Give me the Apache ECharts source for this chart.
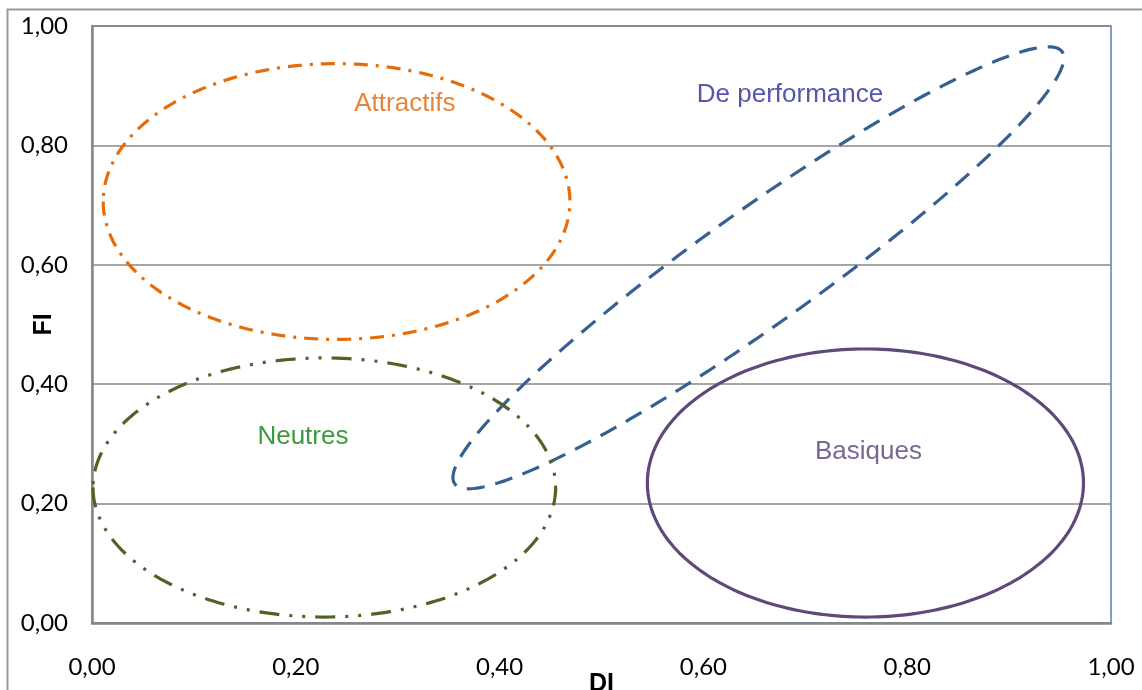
<!DOCTYPE html>
<html>
<head>
<meta charset="utf-8">
<style>html,body{margin:0;padding:0;background:#fff;}#c{width:1142px;height:690px;}</style>
<script src="https://cdn.jsdelivr.net/npm/echarts@6/dist/echarts.min.js"></script>
</head>
<body>
<div id="c"></div>
<script>
// Tick values
var xTicks = [0, 0.2, 0.4, 0.6, 0.8, 1.0];
var yTicks = [0, 0.2, 0.4, 0.6, 0.8, 1.0];
// Zone names
var zoneNames = ['Attractifs', 'De performance', 'Neutres', 'Basiques'];
// Ellipse centres (DI, FI)
var zoneCenters = [[0.240, 0.706], [0.654, 0.595], [0.228, 0.227], [0.759, 0.2345]];
// First semi-axis vectors (DI, FI)
var zoneAxisA = [[0.229, 0], [0.298, 0.362], [0.227, 0], [0.214, 0]];
// Second semi-axis vectors (DI, FI)
var zoneAxisB = [[0, 0.231], [0.0327, -0.0776], [0, 0.217], [0, 0.2245]];
// Label anchor points (DI, FI)
var labelPoints = [[0.307, 0.869], [0.685, 0.884], [0.207, 0.312], [0.762, 0.286]];

var colors = ['#E46C0A', '#366092', '#4F6228', '#5F497A'];
var textColors = ['#E0650A', '#2B2B98', '#0E800E', '#58407A'];
var dashes = [[14, 8, 3, 8], [18, 11], [20, 10, 3, 10, 3, 10], null];

function fmt(v) { return v.toFixed(2).replace('.', ','); }

var series = [];
zoneNames.forEach(function (name, i) {
  series.push({
    type: 'custom',
    name: name,
    silent: true,
    data: [[zoneCenters[i][0], zoneCenters[i][1], zoneAxisA[i][0], zoneAxisA[i][1], zoneAxisB[i][0], zoneAxisB[i][1]]],
    renderItem: function (params, api) {
      var cx = api.value(0), cy = api.value(1), ax = api.value(2), ay = api.value(3), bx = api.value(4), by = api.value(5);
      var pts = [];
      var n = 240;
      for (var k = 0; k <= n; k++) {
        var t = Math.PI + 2 * Math.PI * k / n;
        pts.push(api.coord([cx + ax * Math.cos(t) + bx * Math.sin(t), cy + ay * Math.cos(t) + by * Math.sin(t)]));
      }
      var style = { fill: null, stroke: colors[i], lineWidth: 3.2 };
      if (dashes[i]) style.lineDash = dashes[i];
      return { type: 'polyline', shape: { points: pts }, style: style };
    },
    z: 3
  });
});

series.push({
  type: 'scatter',
  silent: true,
  symbolSize: 0,
  data: labelPoints.map(function (p, i) {
    return {
      value: p,
      label: {
        show: true,
        position: 'inside',
        formatter: zoneNames[i],
        color: textColors[i],
        fontSize: 26,
        fontFamily: 'Liberation Sans, Arial, sans-serif'
      }
    };
  }),
  z: 5
});

var chart = echarts.init(document.getElementById('c'));
chart.setOption({
  animation: false,
  backgroundColor: '#fff',
  graphic: [{
    type: 'rect',
    shape: { x: 7.5, y: 9.5, width: 1200, height: 800 },
    style: { fill: null, stroke: '#9a9a9a', lineWidth: 2 },
    silent: true,
    z: -10
  }],
  grid: { left: 92, top: 26, right: 31, bottom: 67, outerBoundsMode: 'none', containLabel: false, show: true, borderColor: '#4F81BD', borderWidth: 1.5, backgroundColor: 'transparent' },
  xAxis: {
    type: 'value', min: 0, max: 1, interval: 0.2,
    name: 'DI', nameLocation: 'middle', nameGap: 49, nameMoveOverlap: false,
    nameTextStyle: { fontSize: 25, fontWeight: 'bold', color: '#000', fontFamily: 'Liberation Sans, Arial, sans-serif' },
    axisLine: { show: true, lineStyle: { color: '#878787', width: 2.5 } },
    axisTick: { show: false },
    splitLine: { show: false },
    axisLabel: { formatter: fmt, fontSize: 24, color: '#000', margin: 32, fontFamily: 'Lato, Open Sans, sans-serif' }
  },
  yAxis: {
    type: 'value', min: 0, max: 1, interval: 0.2,
    name: 'FI', nameLocation: 'middle', nameGap: 35, nameMoveOverlap: false,
    nameTextStyle: { fontSize: 25, fontWeight: 'bold', color: '#000', fontFamily: 'Liberation Sans, Arial, sans-serif' },
    axisLine: { show: true, lineStyle: { color: '#878787', width: 2.5 } },
    axisTick: { show: false },
    splitLine: { show: true, lineStyle: { color: '#878787', width: 1.5 } },
    axisLabel: { formatter: fmt, fontSize: 24, color: '#000', margin: 24, fontFamily: 'Lato, Open Sans, sans-serif' }
  },
  series: series
});
</script>
</body>
</html>
